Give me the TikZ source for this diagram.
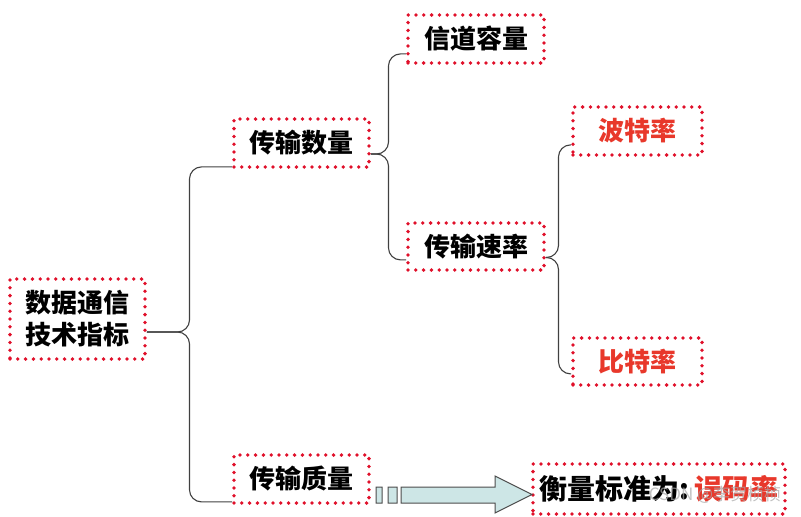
\documentclass[tikz,border=0pt]{standalone}
\usepackage{fontspec}
\newfontfamily\cjk{Noto Sans CJK SC}
\usetikzlibrary{calc}
\definecolor{dotred}{HTML}{E0102A}
\definecolor{txtred}{HTML}{E8382B}
\definecolor{arrowfill}{HTML}{CDE6E6}
\tikzset{
    box/.style={draw=dotred, line width=3.8pt, line cap=round, dash pattern=on 0pt off 7.8pt,
        inner sep=0pt, align=center, font=\cjk\bfseries\fontsize{26}{32}\selectfont},
    brace/.style={draw=black!75, line width=1.1pt, rounded corners=12pt},
}
% parent, child, shift at parent, shift at child
\newcommand\branch[4]{\draw[brace] let \p1=([yshift=#3]#1.east), \p2=([yshift=#4]#2.south west) in
    (\p1) -| ({(\x1+\x2)/2},\y2) -- (\p2);}
\begin{document}
\begin{tikzpicture}[x=1pt, y=1pt]
        \useasboundingbox (0,0) rectangle (801,-517);
        \node[box, minimum width=135pt, minimum height=80pt] (root) at (77.5,-319) {数据通信\\技术指标};
        \node[box, minimum width=135pt, minimum height=48pt] (shuliang) at (301.5,-143) {传输数量};
        \node[box, minimum width=135pt, minimum height=48pt] (zhiliang) at (301.5,-479) {传输质量};
        \node[box, minimum width=136pt, minimum height=48pt] (rongliang) at (476,-39) {信道容量};
        \node[box, minimum width=136pt, minimum height=47pt] (sulv) at (476,-246.5) {传输速率};
        \node[box, minimum width=129pt, minimum height=48pt, text=txtred] (botelv) at (637.5,-131) {波特率};
        \node[box, minimum width=129pt, minimum height=47pt, text=txtred] (bitelv) at (637.5,-361.5) {比特率};
        \node[box, minimum width=252pt, minimum height=50pt, font=\cjk\bfseries\fontsize{28}{32}\selectfont] (wuma) at (659,-489)
            {衡量标准为:\,\textcolor{txtred}{误码率}};
        \branch{root}{shuliang}{-13pt}{2pt}
        \branch{root}{zhiliang}{-13pt}{3pt}
        \branch{shuliang}{rongliang}{-11pt}{11pt}
        \branch{shuliang}{sulv}{-11pt}{12pt}
        \branch{sulv}{botelv}{-11pt}{12pt}
        \branch{sulv}{bitelv}{-11pt}{13pt}
        \filldraw[fill=arrowfill, draw=black!70, line width=1pt] (376,-487) rectangle (382,-503) (388,-487) rectangle (397,-503)
            (401,-487) -- (495,-487) -- (495,-476) -- (532,-494.5) -- (495,-513) -- (495,-503) -- (401,-503) -- cycle;
        \node[font=\cjk\fontsize{17}{17}\selectfont, text=gray!70, opacity=.7] (mark) at (715,-495) {CSDN @李贺桢桢};
    \end{tikzpicture}
\end{document}
